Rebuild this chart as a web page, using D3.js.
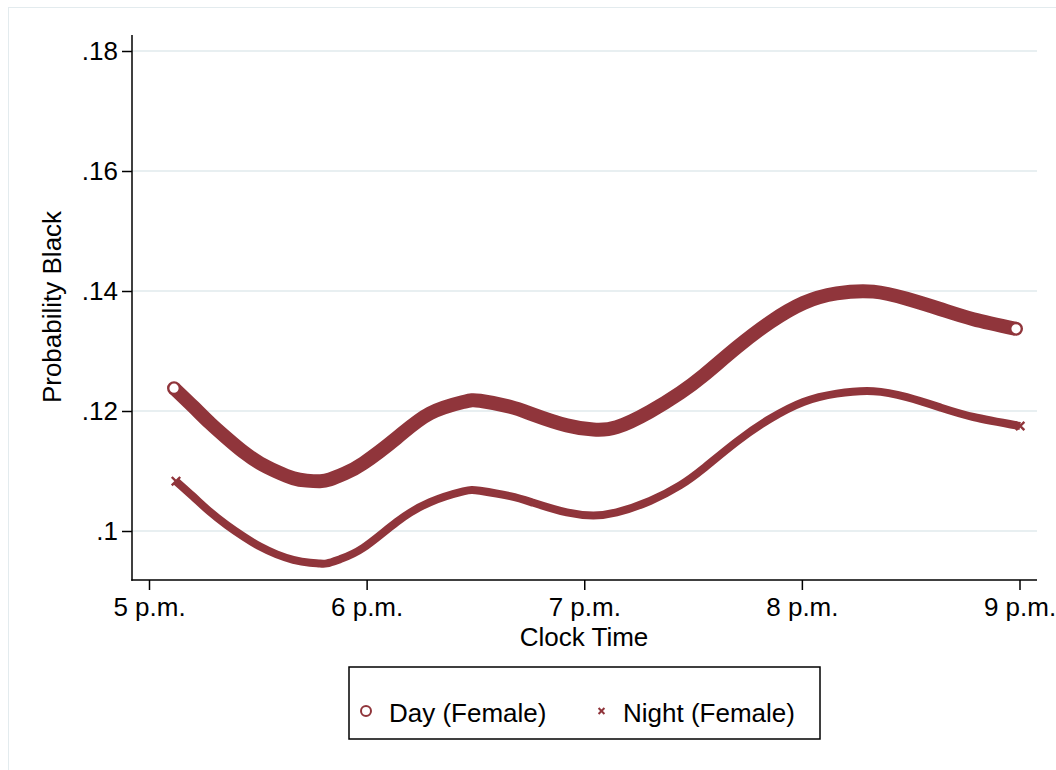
<!DOCTYPE html>
<html>
<head>
<meta charset="utf-8">
<script src="https://cdn.jsdelivr.net/npm/d3@7"></script>
<style>
  html, body { margin: 0; padding: 0; background: #fff; }
  svg { display: block; font-family: "Liberation Sans", Arial, Helvetica, sans-serif; }
</style>
</head>
<body>
<svg id="chart" width="1056" height="770"></svg>
<script>
// Clock time in hours (17 = 5 p.m.)
const dayHours = [17.115, 17.204, 17.280, 17.357, 17.433, 17.510, 17.587, 17.663, 17.725, 17.786, 17.832,
  17.900, 17.985, 18.138, 18.291, 18.444, 18.521, 18.659, 18.766, 18.920, 19.042, 19.149, 19.302, 19.440,
  19.547, 19.701, 19.854, 20.007, 20.160, 20.329, 20.482, 20.635, 20.788, 20.984];
const dayValues = [0.1238, 0.1207, 0.1180, 0.1155, 0.1132, 0.1113, 0.1099, 0.1088, 0.1084, 0.1083, 0.1086,
  0.1096, 0.1113, 0.1155, 0.1196, 0.1215, 0.1217, 0.1207, 0.1194, 0.1176, 0.1169, 0.1173, 0.1199, 0.1230,
  0.1259, 0.1306, 0.1348, 0.1380, 0.1396, 0.1399, 0.1387, 0.1370, 0.1353, 0.1337];

const nightHours = [17.124, 17.204, 17.280, 17.357, 17.433, 17.510, 17.587, 17.663, 17.740, 17.780, 17.817,
  17.878, 17.985, 18.138, 18.291, 18.444, 18.521, 18.659, 18.766, 18.920, 19.042, 19.149, 19.302, 19.440,
  19.547, 19.701, 19.854, 20.007, 20.160, 20.329, 20.482, 20.635, 20.788, 21.003];
const nightValues = [0.1083, 0.1057, 0.1032, 0.1010, 0.0991, 0.0974, 0.0961, 0.0952, 0.0947, 0.0946, 0.0946,
  0.0953, 0.0972, 0.1015, 0.1048, 0.1066, 0.1067, 0.1058, 0.1047, 0.1031, 0.1026, 0.1031, 0.1050, 0.1076,
  0.1104, 0.1149, 0.1187, 0.1215, 0.1229, 0.1233, 0.1223, 0.1206, 0.1190, 0.1175];

const xTickValues = [17, 18, 19, 20, 21];
const xTickLabels = ["5 p.m.", "6 p.m.", "7 p.m.", "8 p.m.", "9 p.m."];
const yTickValues = [0.10, 0.12, 0.14, 0.16, 0.18];
const yTickLabels = [".1", ".12", ".14", ".16", ".18"];
const seriesNames = ["Day (Female)", "Night (Female)"];

const maroon = "#90353b";
const gridColor = "#e8eff1";
const fontSize = 26;

const svg = d3.select("#chart");

// Outer graph frame
svg.append("rect")
  .attr("x", 8.5).attr("y", 7.5).attr("width", 1100).attr("height", 800)
  .attr("fill", "#fff").attr("stroke", "#e3ebee").attr("stroke-width", 1);

const plot = { left: 132, right: 1037, top: 35, bottom: 580 };

const x = d3.scaleLinear().domain([17, 21]).range([149, 1019.5]);
const y = d3.scaleLinear().domain([0.10, 0.18]).range([531, 51]);

// Horizontal gridlines
svg.append("g").selectAll("line")
  .data(yTickValues)
  .join("line")
  .attr("x1", plot.left).attr("x2", plot.right)
  .attr("y1", d => y(d)).attr("y2", d => y(d))
  .attr("stroke", gridColor).attr("stroke-width", 2);

// Y axis
const yAxis = d3.axisLeft(y)
  .tickValues(yTickValues)
  .tickFormat((d, i) => yTickLabels[i])
  .tickSize(10).tickPadding(4);
const gy = svg.append("g").attr("transform", `translate(${plot.left},0)`).call(yAxis);
gy.select(".domain").remove();
gy.selectAll(".tick line").attr("stroke", "#000").attr("stroke-width", 1.5);
gy.selectAll(".tick text").attr("font-size", fontSize).attr("fill", "#000")
  .attr("font-family", "Liberation Sans, Arial, sans-serif");

// X axis
const xAxis = d3.axisBottom(x)
  .tickValues(xTickValues)
  .tickFormat((d, i) => xTickLabels[i])
  .tickSize(10).tickPadding(8);
const gx = svg.append("g").attr("transform", `translate(0,${plot.bottom})`).call(xAxis);
gx.select(".domain").remove();
gx.selectAll(".tick line").attr("stroke", "#000").attr("stroke-width", 1.5);
gx.selectAll(".tick text").attr("font-size", fontSize).attr("fill", "#000")
  .attr("font-family", "Liberation Sans, Arial, sans-serif");

// Axis lines
svg.append("line")
  .attr("x1", plot.left).attr("x2", plot.left)
  .attr("y1", plot.top).attr("y2", plot.bottom + 0.75)
  .attr("stroke", "#000").attr("stroke-width", 1.5);
svg.append("line")
  .attr("x1", plot.left - 0.75).attr("x2", plot.right)
  .attr("y1", plot.bottom).attr("y2", plot.bottom)
  .attr("stroke", "#000").attr("stroke-width", 1.5);

// Axis titles
svg.append("text")
  .attr("x", 584).attr("y", 646)
  .attr("text-anchor", "middle").attr("font-size", fontSize)
  .text("Clock Time");
svg.append("text")
  .attr("transform", "translate(61,307) rotate(-90)")
  .attr("text-anchor", "middle").attr("font-size", fontSize)
  .text("Probability Black");

// Series
const day = dayHours.map((h, i) => ({ h, v: dayValues[i] }));
const night = nightHours.map((h, i) => ({ h, v: nightValues[i] }));

const line = d3.line().x(d => x(d.h)).y(d => y(d.v)).curve(d3.curveNatural);

// Night: dense band of small crosses
svg.append("path")
  .datum(night)
  .attr("d", line)
  .attr("fill", "none").attr("stroke", maroon).attr("stroke-width", 8);
const cross = d3.symbol().type(d3.symbolX).size(48);
svg.append("g").selectAll("path")
  .data([night[0], night[night.length - 1]])
  .join("path")
  .attr("transform", d => `translate(${x(d.h)},${y(d.v)})`)
  .attr("d", cross)
  .attr("fill", "none").attr("stroke", maroon).attr("stroke-width", 2.4);

// Day: dense band of hollow circles
svg.append("path")
  .datum(day)
  .attr("d", line)
  .attr("fill", "none").attr("stroke", maroon).attr("stroke-width", 14);
svg.append("g").selectAll("circle")
  .data([day[0], day[day.length - 1]])
  .join("circle")
  .attr("cx", d => x(d.h)).attr("cy", d => y(d.v))
  .attr("r", 5.8)
  .attr("fill", "#fff").attr("stroke", maroon).attr("stroke-width", 2.4);

// Legend
const legend = svg.append("g");
legend.append("rect")
  .attr("x", 349).attr("y", 667).attr("width", 471).attr("height", 72)
  .attr("fill", "#fff").attr("stroke", "#000").attr("stroke-width", 1.5);
legend.append("circle")
  .attr("cx", 366).attr("cy", 711).attr("r", 5)
  .attr("fill", "none").attr("stroke", maroon).attr("stroke-width", 2);
legend.append("path")
  .attr("transform", "translate(601.5,711)")
  .attr("d", d3.symbol().type(d3.symbolX).size(24))
  .attr("fill", "none").attr("stroke", maroon).attr("stroke-width", 2);
legend.append("text")
  .attr("x", 389).attr("y", 721.5).attr("font-size", fontSize)
  .text(seriesNames[0]);
legend.append("text")
  .attr("x", 623).attr("y", 721.5).attr("font-size", fontSize)
  .text(seriesNames[1]);
</script>
</body>
</html>
